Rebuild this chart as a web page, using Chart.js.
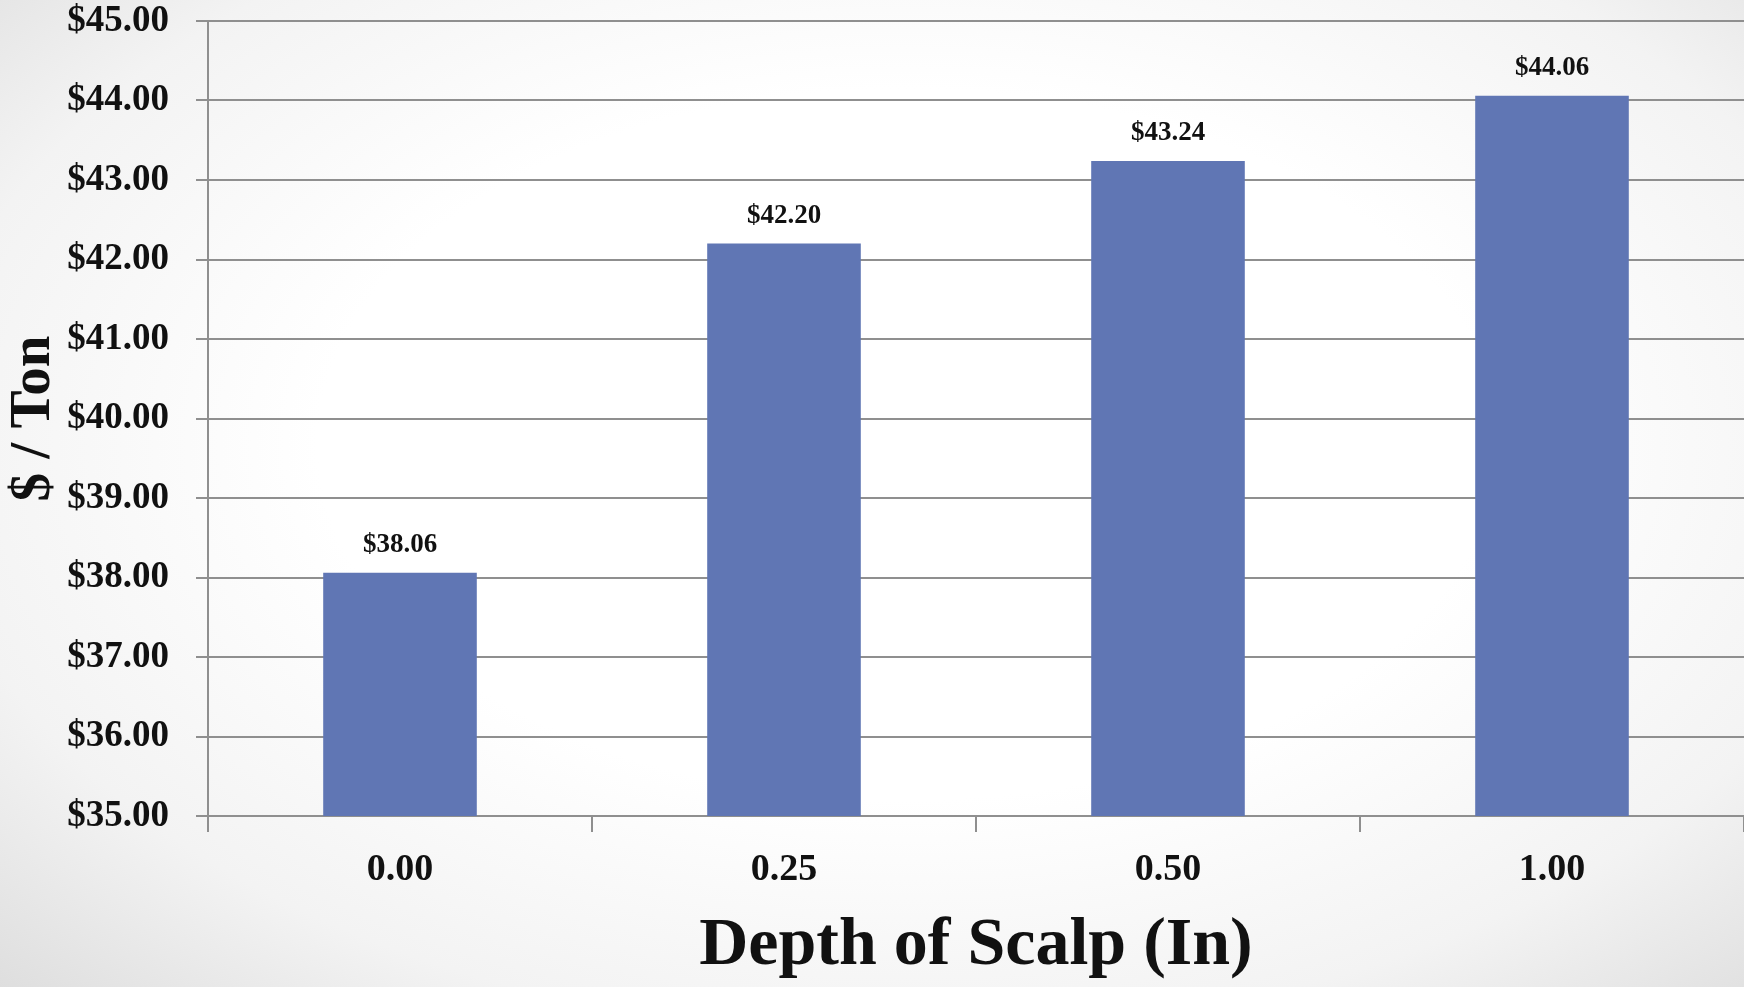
<!DOCTYPE html>
<html>
<head>
<meta charset="utf-8">
<script src="https://cdn.jsdelivr.net/npm/chart.js@4"></script>
<style>
  html, body { margin: 0; padding: 0; }
  body {
    width: 1744px; height: 987px; overflow: hidden;
    background: radial-gradient(ellipse 75% 80% at 52% 45%, #ffffff 45%, #f3f3f3 75%, #dcdcdc 100%);
  }
  #wrap { width: 1744px; height: 987px; position: relative; }
</style>
</head>
<body>
<div id="wrap"><canvas id="myChart"></canvas></div>
<script>
// depth of scalp (in) and cost per ton
var depths = ['0.00', '0.25', '0.50', '1.00'];
var costPerTon = [38.06, 42.20, 43.24, 44.06];
var yMin = 35, yMax = 45, yStep = 1;

var serif = "'Liberation Serif', 'Times New Roman', serif";
var gridColor = '#8f8f8f';

// draws the $ value above every bar
var barLabels = {
  id: 'barLabels',
  afterDatasetsDraw: function (chart) {
    var ctx = chart.ctx;
    var meta = chart.getDatasetMeta(0);
    ctx.save();
    ctx.font = 'bold 27px ' + serif;
    ctx.fillStyle = '#111';
    ctx.textAlign = 'center';
    ctx.textBaseline = 'middle';
    meta.data.forEach(function (bar, i) {
      ctx.fillText('$' + costPerTon[i].toFixed(2), bar.x, bar.y - 28);
    });
    ctx.restore();
  }
};

var ctx = document.getElementById('myChart').getContext('2d');
var myChart = new Chart(ctx, {
  type: 'bar',
  data: {
    labels: depths,
    datasets: [{
      label: '$ / Ton',
      data: costPerTon,
      backgroundColor: '#6076b4',
      barPercentage: 0.4,
      categoryPercentage: 1.0
    }]
  },
  options: {
    responsive: true,
    maintainAspectRatio: false,
    animation: false,
    layout: { padding: 0 },
    plugins: {
      legend: { display: false },
      tooltip: { enabled: false }
    },
    scales: {
      x: {
        grid: { drawOnChartArea: false, drawTicks: true, tickLength: 16, color: gridColor, lineWidth: 2 },
        border: { color: gridColor, width: 2 },
        ticks: { color: '#111', font: { family: serif, size: 38, weight: 'bold' }, padding: 15 },
        title: {
          display: true,
          text: 'Depth of Scalp (In)',
          color: '#111',
          font: { family: serif, size: 68, weight: 'bold' },
          padding: { top: 0, bottom: 0 }
        },
        afterFit: function (scale) { scale.height = 171; }
      },
      y: {
        min: yMin,
        max: yMax,
        ticks: {
          stepSize: yStep,
          color: '#111',
          font: { family: serif, size: 37, weight: 'bold' },
          padding: 27,
          callback: function (v) { return '$' + Number(v).toFixed(2); }
        },
        grid: { color: gridColor, lineWidth: 2, tickLength: 12 },
        border: { color: gridColor, width: 2 },
        title: {
          display: true,
          text: '$ / Ton',
          color: '#111',
          font: { family: serif, size: 57, weight: 'bold' },
          padding: { top: 0, bottom: 0 }
        },
        afterFit: function (scale) {
          scale.width = 208;
          scale.paddingTop = 21;
          scale.paddingBottom = 0;
        }
      }
    }
  },
  plugins: [barLabels]
});
</script>
</body>
</html>
